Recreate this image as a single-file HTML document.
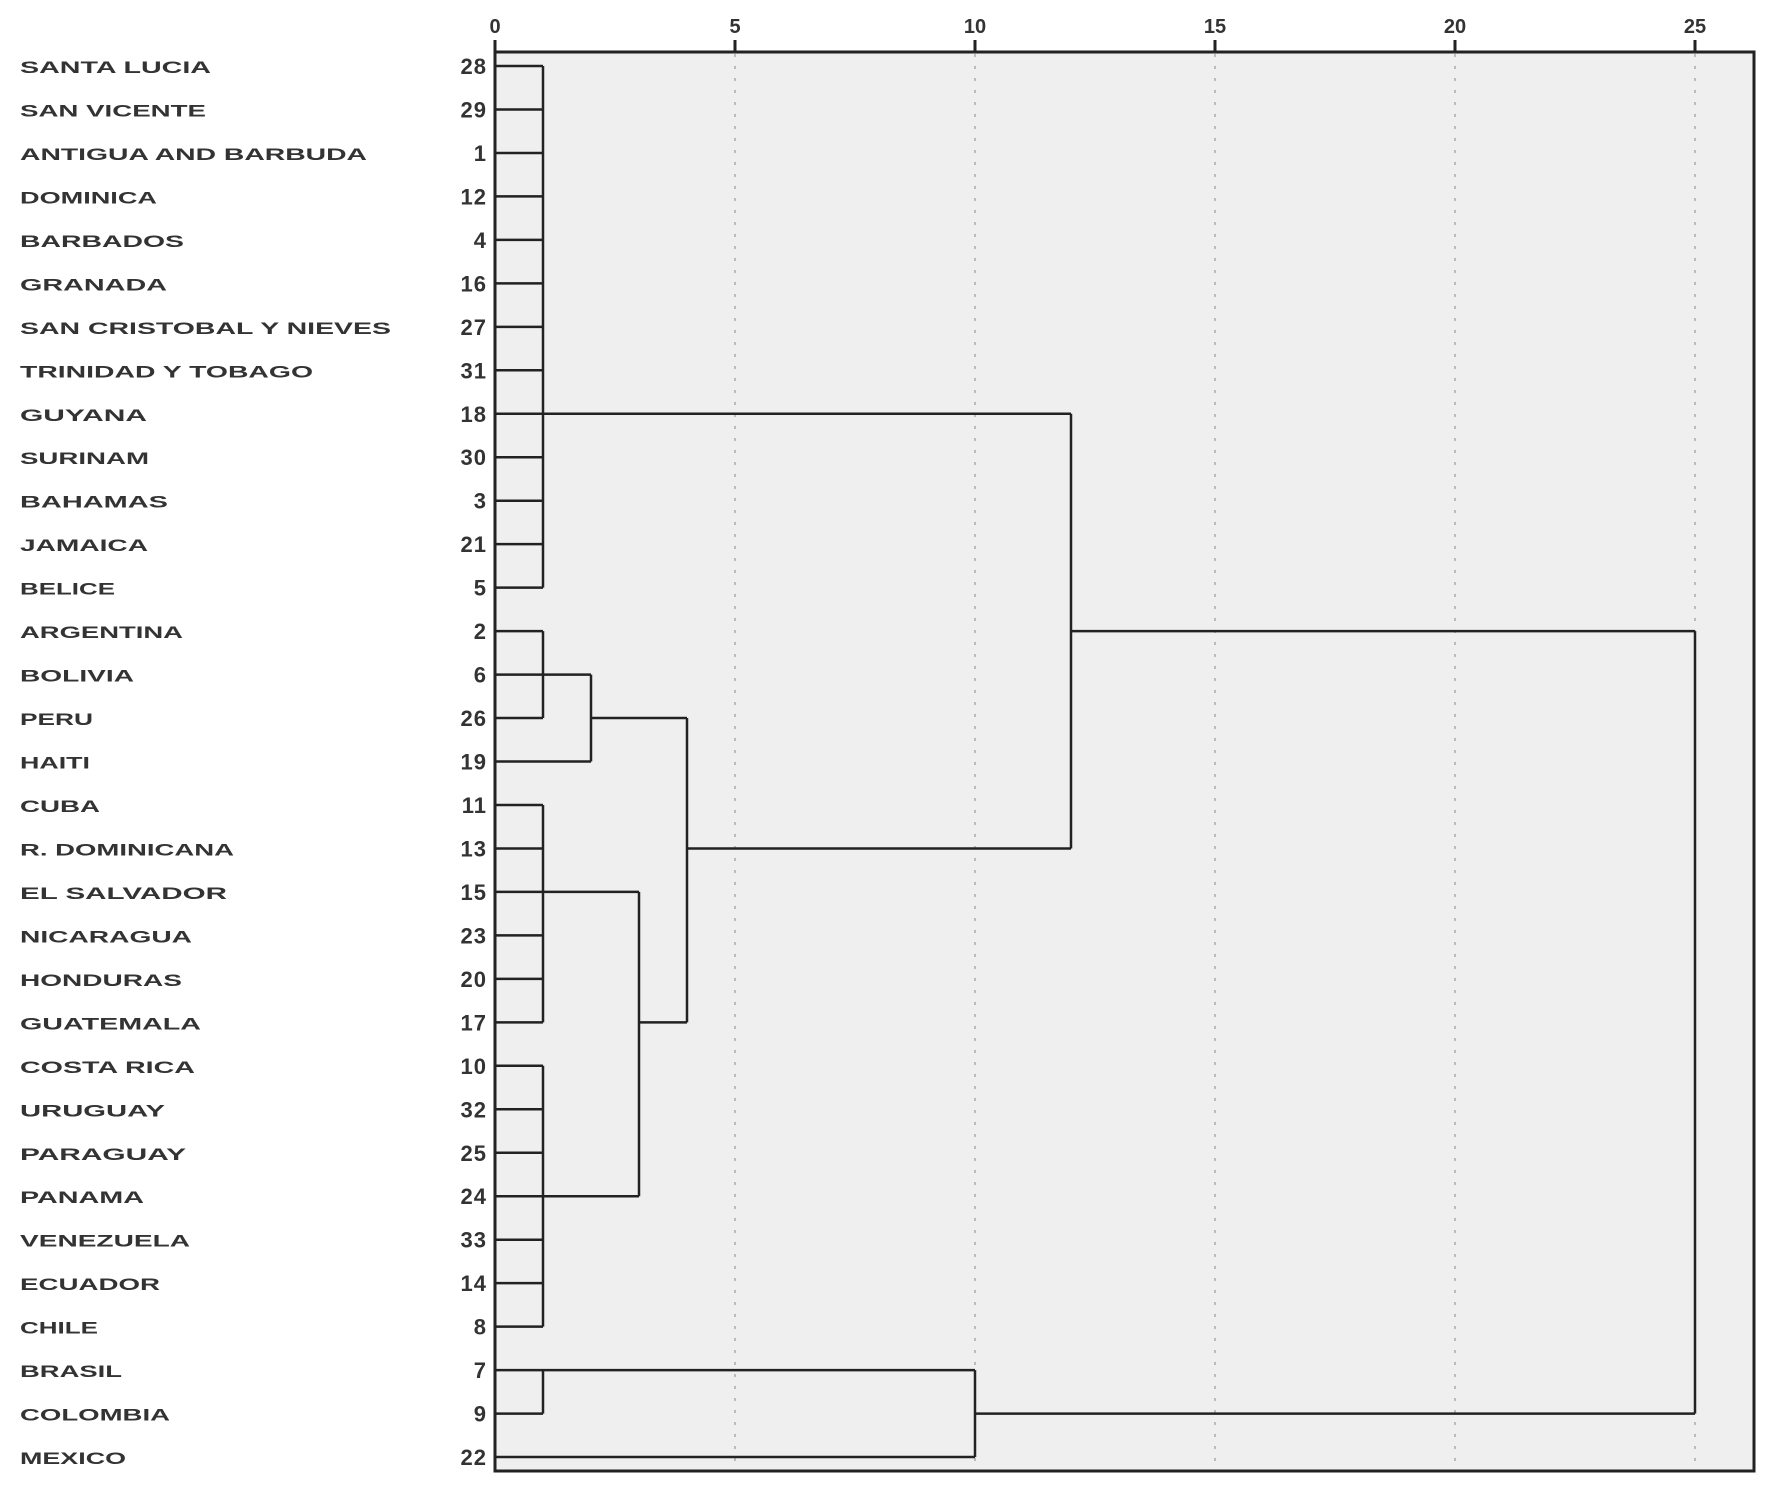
<!DOCTYPE html>
<html><head><meta charset="utf-8"><style>html,body{margin:0;padding:0;background:#fff}svg{display:block}</style></head>
<body>
<svg width="1772" height="1488" viewBox="0 0 1772 1488" xmlns="http://www.w3.org/2000/svg" font-family="Liberation Sans, Arial, sans-serif">
<rect x="495" y="52" width="1259" height="1419" fill="#efefef"/>
<g stroke="#aaa" stroke-width="1.5" stroke-dasharray="3,9">
<line x1="735" y1="54" x2="735" y2="1470"/><line x1="975" y1="54" x2="975" y2="1470"/><line x1="1215" y1="54" x2="1215" y2="1470"/><line x1="1455" y1="54" x2="1455" y2="1470"/><line x1="1695" y1="54" x2="1695" y2="1470"/>
</g>
<g stroke="#222" stroke-width="3" fill="none">
<path d="M495 40 V1471 H1754 V52 H495"/>
<path d="M735 40V52M975 40V52M1215 40V52M1455 40V52M1695 40V52"/>
</g>
<g font-size="20" font-weight="bold" fill="#333" text-anchor="middle">
<text x="495" y="33">0</text><text x="735" y="33">5</text><text x="975" y="33">10</text><text x="1215" y="33">15</text><text x="1455" y="33">20</text><text x="1695" y="33">25</text>
</g>
<g stroke="#222" stroke-width="2.5" fill="none" id="tree"></g>
<g id="labels"></g>
<script>
var names=["SANTA LUCIA","SAN VICENTE","ANTIGUA AND BARBUDA","DOMINICA","BARBADOS","GRANADA","SAN CRISTOBAL Y NIEVES","TRINIDAD Y TOBAGO","GUYANA","SURINAM","BAHAMAS","JAMAICA","BELICE","ARGENTINA","BOLIVIA","PERU","HAITI","CUBA","R. DOMINICANA","EL SALVADOR","NICARAGUA","HONDURAS","GUATEMALA","COSTA RICA","URUGUAY","PARAGUAY","PANAMA","VENEZUELA","ECUADOR","CHILE","BRASIL","COLOMBIA","MEXICO"];
var w=[191,186,347,137,164,147,371,293,127,129,148,128,95,163,114,73,70,80,214,207,172,162,181,175,145,166,124,170,140,78,102,150,106];
var nums=[28,29,1,12,4,16,27,31,18,30,3,21,5,2,6,26,19,11,13,15,23,20,17,10,32,25,24,33,14,8,7,9,22];
function Y(i){return 66+43.47*i}function X(d){return 495+48*d}
var ns="http://www.w3.org/2000/svg",L=document.getElementById("labels"),T=document.getElementById("tree");
for(var i=0;i<33;i++){
var t=document.createElementNS(ns,"text");t.setAttribute("x",20);t.setAttribute("y",Y(i)+7);t.setAttribute("font-size","17");t.setAttribute("font-weight","bold");t.setAttribute("fill","#333");t.setAttribute("textLength",w[i]);t.setAttribute("lengthAdjust","spacingAndGlyphs");t.textContent=names[i];L.appendChild(t);
var n=document.createElementNS(ns,"text");n.setAttribute("x",487);n.setAttribute("y",Y(i)+8);n.setAttribute("font-size","22");n.setAttribute("font-weight","bold");n.setAttribute("letter-spacing","1");n.setAttribute("fill","#333");n.setAttribute("text-anchor","end");n.textContent=nums[i];L.appendChild(n);}
var d="";
function h(r,a,b){d+="M"+X(a)+" "+Y(r)+"H"+X(b);}
function v(x,a,b){d+="M"+X(x)+" "+Y(a)+"V"+Y(b);}
for(var i=0;i<33;i++){ if(i==16) h(i,0,2); else if(i==32) h(i,0,10); else h(i,0,1);}
v(1,0,12);v(1,13,15);h(14,1,2);v(2,14,16);h(15,2,4);
v(1,17,22);h(19,1,3);v(1,23,29);h(26,1,3);v(3,19,26);h(22,3,4);
v(4,15,22);h(18,4,12);h(8,1,12);v(12,8,18);h(13,12,25);
v(1,30,31);h(30,1,10);v(10,30,32);h(31,10,25);v(25,13,31);
var p=document.createElementNS(ns,"path");p.setAttribute("d",d);T.appendChild(p);
</script>
</svg>
</body></html>
